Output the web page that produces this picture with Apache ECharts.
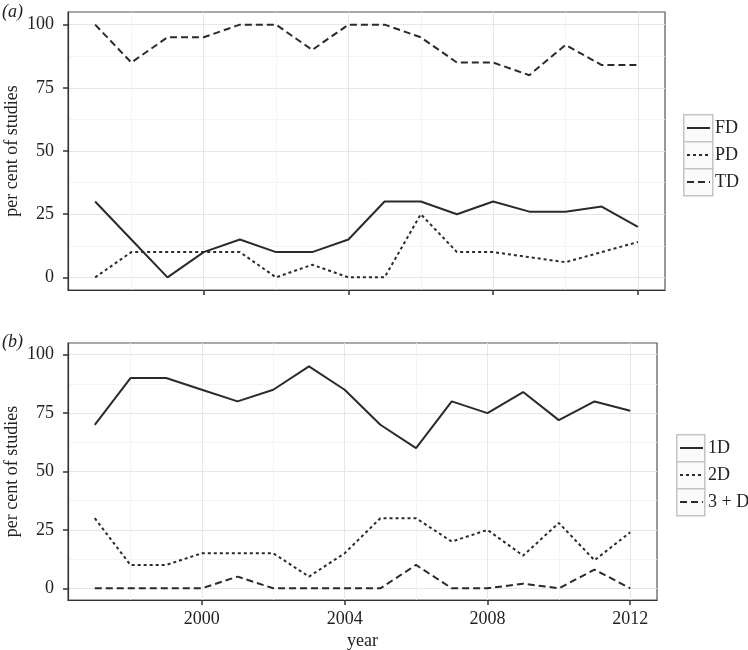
<!DOCTYPE html>
<html>
<head>
<meta charset="utf-8">
<script src="https://cdn.jsdelivr.net/npm/echarts@6/dist/echarts.min.js"></script>
<style>
html,body{margin:0;padding:0;background:#fff;}
#chart{width:748px;height:650px;}
</style>
</head>
<body>
<div id="chart"></div>
<script>
// ---- data ----
var years = [1997,1998,1999,2000,2001,2002,2003,2004,2005,2006,2007,2008,2009,2010,2011,2012];
// panel (a)
var FD = [30,15,0,10,15,10,10,15,30,30,25,30,26,26,28,20];
var PD = [0,10,10,10,10,0,5,0,0,25,10,10,8,6,10,14];
var TD = [100,85,95,95,100,100,90,100,100,95,85,85,80,92,84,84];
// panel (b)
var D1 = [70,90,90,85,80,85,95,85,70,60,80,75,84,72,80,76];
var D2 = [30,10,10,15,15,15,5,15,30,30,20,25,14,28,12,24];
var D3 = [0,0,0,0,5,0,0,0,0,10,0,0,2,0,8,0];
// ticks
var xTicks = [2000,2004,2008,2012];
var xMinor = [1998,2002,2006,2010];
var yTicks = [0,25,50,75,100];
var yMinor = [12.5,37.5,62.5,87.5];
var legendA = ['FD','PD','TD'];
var legendB = ['1D','2D','3 + D'];

function pairs(v){ return years.map(function(y,i){ return [y, v[i]]; }); }

var FONT = '"Liberation Serif","DejaVu Serif",serif';
var TXT = '#222';
var LINE = '#2a2a2a';
var FS = 18;

function xMain(gi, showLabels){
  return {
    type:'value', gridIndex:gi, min:1996.25, max:2012.75,
    axisLine:{show:true, onZero:false, lineStyle:{color:'#333', width:1.2}},
    axisTick:{show:true, customValues:xTicks, length:5, lineStyle:{color:'#333', width:1.5}},
    axisLabel:{show:showLabels, customValues:xTicks, color:TXT, fontFamily:FONT, fontSize:FS, margin:10,
      formatter:function(v){ return String(v); }},
    splitLine:{show:true, lineStyle:{color:'#e6e6e6', width:1}},
    name: showLabels ? 'year' : '', nameLocation:'middle', nameGap:32, nameMoveOverlap:false,
    nameTextStyle:{color:TXT, fontFamily:FONT, fontSize:FS}
  };
}
function xMin(gi){
  return {
    type:'value', gridIndex:gi, min:1996.25, max:2012.75, position:'bottom',
    axisLine:{show:false, onZero:false}, axisTick:{show:false, customValues:xMinor},
    axisLabel:{show:false}, splitLine:{show:true, lineStyle:{color:'#f1f1f1', width:0.8}}
  };
}
function yMain(gi){
  return {
    type:'value', gridIndex:gi, min:-5, max:105,
    axisLine:{show:true, onZero:false, lineStyle:{color:'#333', width:1.2}},
    axisTick:{show:true, customValues:yTicks, length:5, lineStyle:{color:'#333', width:1.5}},
    axisLabel:{show:true, customValues:yTicks, color:TXT, fontFamily:FONT, fontSize:FS, margin:14},
    splitLine:{show:true, lineStyle:{color:'#e6e6e6', width:1}},
    name:'per cent of studies', nameLocation:'middle', nameGap:47, nameRotate:90, nameMoveOverlap:false,
    nameTextStyle:{color:TXT, fontFamily:FONT, fontSize:FS}
  };
}
function yMin(gi){
  return {
    type:'value', gridIndex:gi, min:-5, max:105, position:'left',
    axisLine:{show:false, onZero:false}, axisTick:{show:false, customValues:yMinor},
    axisLabel:{show:false}, splitLine:{show:true, lineStyle:{color:'#f1f1f1', width:0.8}}
  };
}

function ser(name, data, xi, yi, type){
  return {
    name:name, type:'line', xAxisIndex:xi, yAxisIndex:yi, data:pairs(data),
    symbol:'none', showSymbol:false, animation:false, silent:true,
    lineStyle:{color:LINE, width:2, type:type}, itemStyle:{color:LINE}
  };
}

var dashT = [7,4];
var dotT = [3,3];

var keyBoxes = [];
function addKeys(x, y0, w, h, n){
  for (var i=0;i<n;i++){
    keyBoxes.push({type:'rect', left:x, top:y0+i*h, shape:{width:w, height:h},
      style:{fill:'#fbfbfb', stroke:'#c4c4c4', lineWidth:1.5}, z:-1, silent:true});
  }
}
addKeys(683, 114, 29, 27, 3);
addKeys(676, 434, 28, 27, 3);

function legend(data, left, top){
  return {data:data, orient:'vertical', left:left, top:top, padding:0,
    itemWidth:23, itemHeight:14, itemGap:9,
    itemStyle:{opacity:0},
    textStyle:{color:TXT, fontFamily:FONT, fontSize:FS}, selectedMode:false};
}

var option = {
  backgroundColor:'#fff',
  animation:false,
  grid:[
    {left:68, top:12, width:597, height:278, show:true, borderColor:'#555', borderWidth:1.2,
     backgroundColor:'transparent', containLabel:false, outerBoundsMode:'none'},
    {left:68, top:343, width:589, height:257, show:true, borderColor:'#555', borderWidth:1.2,
     backgroundColor:'transparent', containLabel:false, outerBoundsMode:'none'}
  ],
  xAxis:[ xMain(0,false), xMin(0), xMain(1,true), xMin(1) ],
  yAxis:[ yMain(0), yMin(0), yMain(1), yMin(1) ],
  legend:[ legend(legendA, 686, 119), legend(legendB, 679, 439) ],
  graphic:[
    {type:'text', left:2, top:3, style:{text:'(a)', fill:TXT, font:'italic 18px '+FONT}},
    {type:'text', left:2, top:333, style:{text:'(b)', fill:TXT, font:'italic 18px '+FONT}}
  ].concat(keyBoxes),
  series:[
    ser('FD', FD, 0, 0, 'solid'),
    ser('PD', PD, 0, 0, dotT),
    ser('TD', TD, 0, 0, dashT),
    ser('1D', D1, 2, 2, 'solid'),
    ser('2D', D2, 2, 2, dotT),
    ser('3 + D', D3, 2, 2, dashT)
  ]
};
var chart = echarts.init(document.getElementById('chart'), null, {renderer:'canvas'});
chart.setOption(option);
</script>
</body>
</html>
